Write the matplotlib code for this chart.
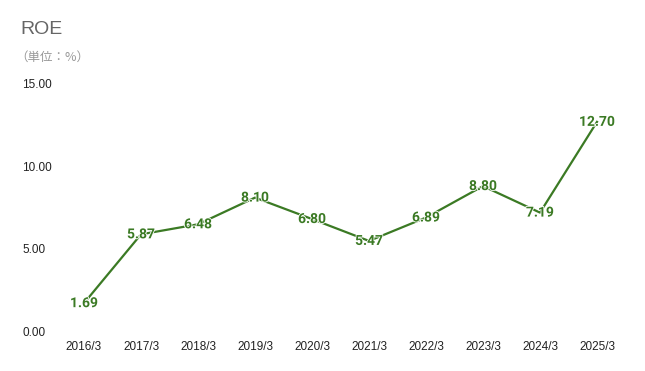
import matplotlib
matplotlib.use('Agg')
import matplotlib.pyplot as plt
import matplotlib.patheffects as pe

# データ
years = ['2016/3', '2017/3', '2018/3', '2019/3', '2020/3',
         '2021/3', '2022/3', '2023/3', '2024/3', '2025/3']
roe = [1.69, 5.87, 6.48, 8.10, 6.80, 5.47, 6.89, 8.80, 7.19, 12.70]
yticks = [0, 5, 10, 15]

green = '#3b7a24'

fig = plt.figure(figsize=(6.45, 3.71), dpi=100)
ax = fig.add_axes([55.5 / 645, 40 / 371, 570 / 645, 247 / 371])

x = range(len(years))
ax.plot(x, roe, color=green, linewidth=1.6)

# 数値ラベル
for i, v in enumerate(roe):
    ax.text(i, v, f'{v:.2f}', ha='center', va='center', color=green,
            fontsize=10, fontweight='bold', family='Roboto',
            path_effects=[pe.withStroke(linewidth=1.2, foreground='white')])

ax.set_xlim(-0.5, len(years) - 0.5)
ax.set_ylim(0, 15)
ax.set_xticks(list(x))
ax.set_xticklabels(years, family='Liberation Sans', fontsize=8.5, color='#222222')
ax.set_yticks(yticks)
ax.set_yticklabels([f'{t:.2f}' for t in yticks], family='Liberation Sans',
                   fontsize=8.5, color='#222222')
ax.tick_params(length=0)
ax.tick_params(axis='x', pad=7.5)
for s in ax.spines.values():
    s.set_visible(False)
for lab in ax.get_yticklabels():
    lab.set_horizontalalignment('left')
ax.yaxis.set_tick_params(pad=24)

fig.text(20 / 645, 1 - 30 / 371, 'ROE', family='Liberation Sans', fontsize=14,
         color='#666666', va='center', ha='left')
fig.text(15 / 645, 1 - 57 / 371, '（単位：%）', family=['Noto Sans CJK JP', 'DejaVu Sans'],
         fontsize=9, color='#999999', va='center', ha='left')

plt.savefig('out.png', dpi=100)
